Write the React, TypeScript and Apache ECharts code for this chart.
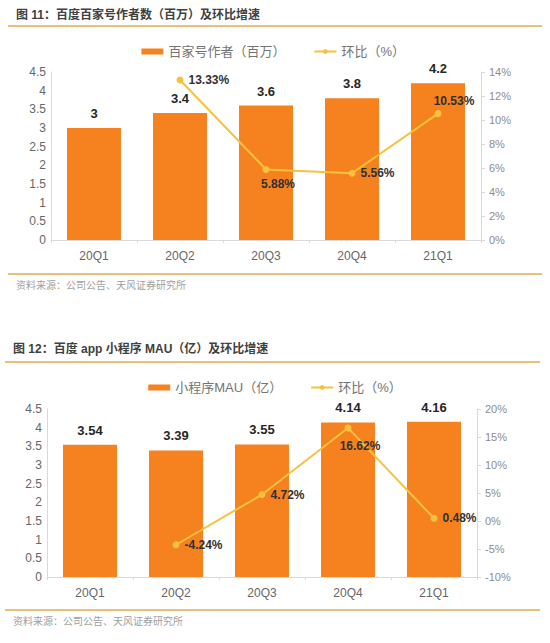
import React, { useEffect, useRef } from "react";
import * as echarts from "echarts";

const categories = ["20Q1", "20Q2", "20Q3", "20Q4", "21Q1"];
const authors = [3, 3.4, 3.6, 3.8, 4.2];
const authorsQoQ: (number | string)[] = ["-", 13.33, 5.88, 5.56, 10.53];
const mau = [3.54, 3.39, 3.55, 4.14, 4.16];
const mauQoQ: (number | string)[] = ["-", -4.24, 4.72, 16.62, 0.48];

const title1 = "图 11：百度百家号作者数（百万）及环比增速";
const title2 = "图 12：百度 app 小程序 MAU（亿）及环比增速";
const source = "资料来源：公司公告、天风证券研究所";
const barName1 = "百家号作者（百万）";
const barName2 = "小程序MAU（亿）";
const lineName = "环比（%）";

const FONT = "'Liberation Sans', 'Noto Sans CJK SC', sans-serif";
const BAR = "#F5821F";
const LINE = "#F6C23E";
const RULE = "#E9C07A";
const AXIS = "#D9D9D9";
const TXT = "#666666";

export default function App() {
  const ref = useRef<HTMLDivElement>(null);
  useEffect(() => {
    if (!ref.current) return;
    const chart = echarts.init(ref.current, undefined, { renderer: "svg" });
    const lineLabelPos1 = ["right", "right", "bottom", "right", "top"];
    const lineLabelOff1 = [[0, 0], [0, 0], [12, 0], [0, 0], [16, 2]];
    const lineLabelPos2 = ["right", "right", "right", "bottom", "right"];
    const lineLabelOff2 = [[0, 0], [0, 0], [0, 0], [12, 4], [0, 0]];
    const mkLine = (arr: (number | string)[], pos: string[], off: number[][]) =>
      arr.map((v, i) => ({
        value: v,
        label: { position: pos[i], offset: off[i] },
      }));
    const xAxisCommon = {
      type: "category",
      data: categories,
      axisLine: { lineStyle: { color: AXIS } },
      axisTick: { show: true, length: 3, lineStyle: { color: AXIS } },
      axisLabel: { color: TXT, fontSize: 12, margin: 10, fontFamily: FONT },
    };
    const leftY = {
      type: "value",
      min: 0,
      max: 4.5,
      interval: 0.5,
      splitLine: { show: false },
      axisLine: { show: true, lineStyle: { color: AXIS } },
      axisTick: { show: false },
      axisLabel: { color: TXT, fontSize: 12, margin: 5, fontFamily: FONT },
    };
    const rightYCommon = {
      type: "value",
      position: "right",
      splitLine: { show: false },
      axisLine: { show: true, lineStyle: { color: AXIS } },
      axisTick: { show: true, length: 4, lineStyle: { color: AXIS } },
      axisLabel: {
        color: "#8c8c8c",
        fontSize: 11,
        margin: 8,
        fontFamily: FONT,
        formatter: "{value}%",
      },
    };
    const barLabel = {
      show: true,
      position: "top",
      distance: 8,
      color: "#262626",
      fontSize: 13,
      fontWeight: "bold",
      fontFamily: FONT,
    };
    const lineLabel = {
      show: true,
      color: "#303030",
      fontSize: 12,
      fontWeight: "bold",
      fontFamily: FONT,
      formatter: (p: any) => p.value.toFixed(2) + "%",
    };
    const textEl = (x: number, y: number, text: string, opts: any) => ({
      type: "text",
      x,
      y,
      style: { text, fontFamily: FONT, ...opts },
    });
    const ruleEl = (x1: number, x2: number, y: number) => ({
      type: "line",
      shape: { x1, y1: y, x2, y2: y },
      style: { stroke: RULE, lineWidth: 2 },
    });
    const legendText = { color: "#737373", fontSize: 13, fontFamily: FONT };
    chart.setOption({
      animation: false,
      backgroundColor: "#ffffff",
      graphic: [
        textEl(16, 9, title1, { fill: "#404040", fontSize: 12, fontWeight: "bold" }),
        ruleEl(8, 542, 26),
        ruleEl(8, 542, 274),
        textEl(16, 280, source, { fill: "#a0a0a0", fontSize: 10 }),
        textEl(13, 343, title2, { fill: "#404040", fontSize: 12, fontWeight: "bold" }),
        ruleEl(5, 540, 362),
        ruleEl(5, 540, 610),
        textEl(13, 616, source, { fill: "#a0a0a0", fontSize: 10 }),
      ],
      legend: [
        {
          top: 40,
          left: "center",
          data: [{ name: barName1, icon: "rect" }, { name: lineName + " " }],
          itemWidth: 22,
          itemHeight: 6,
          itemGap: 28,
          textStyle: legendText,
        },
        {
          top: 376,
          left: "center",
          data: [{ name: barName2, icon: "rect" }, { name: lineName }],
          itemWidth: 22,
          itemHeight: 6,
          itemGap: 28,
          textStyle: legendText,
        },
      ],
      grid: [
        { left: 51, width: 430, top: 72, height: 168 },
        { left: 47, width: 430, top: 409, height: 168 },
      ],
      xAxis: [
        { ...xAxisCommon, gridIndex: 0 },
        { ...xAxisCommon, gridIndex: 1 },
      ],
      yAxis: [
        { ...leftY, gridIndex: 0 },
        { ...rightYCommon, gridIndex: 0, min: 0, max: 14, interval: 2 },
        { ...leftY, gridIndex: 1 },
        { ...rightYCommon, gridIndex: 1, min: -10, max: 20, interval: 5 },
      ],
      series: [
        {
          name: barName1,
          type: "bar",
          xAxisIndex: 0,
          yAxisIndex: 0,
          data: authors,
          barWidth: 54,
          itemStyle: { color: BAR },
          label: barLabel,
        },
        {
          name: lineName + " ",
          type: "line",
          xAxisIndex: 0,
          yAxisIndex: 1,
          data: mkLine(authorsQoQ, lineLabelPos1, lineLabelOff1),
          symbol: "circle",
          symbolSize: 7,
          itemStyle: { color: LINE },
          lineStyle: { color: LINE, width: 2 },
          label: lineLabel,
          z: 5,
        },
        {
          name: barName2,
          type: "bar",
          xAxisIndex: 1,
          yAxisIndex: 2,
          data: mau,
          barWidth: 54,
          itemStyle: { color: BAR },
          label: barLabel,
        },
        {
          name: lineName,
          type: "line",
          xAxisIndex: 1,
          yAxisIndex: 3,
          data: mkLine(mauQoQ, lineLabelPos2, lineLabelOff2),
          symbol: "circle",
          symbolSize: 7,
          itemStyle: { color: LINE },
          lineStyle: { color: LINE, width: 2 },
          label: lineLabel,
          z: 5,
        },
      ],
    });
    return () => chart.dispose();
  }, []);
  return (
    <div
      ref={ref}
      style={{ position: "absolute", left: 0, top: 0, width: 550, height: 643 }}
    />
  );
}
